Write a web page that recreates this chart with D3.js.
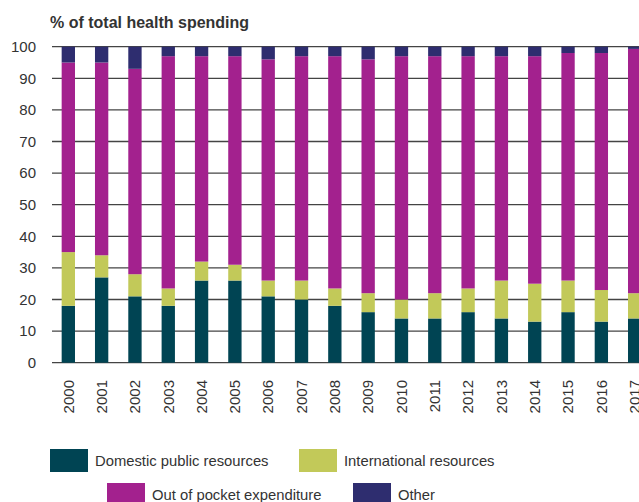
<!DOCTYPE html>
<html>
<head>
<meta charset="utf-8">
<script src="https://cdn.jsdelivr.net/npm/d3@7"></script>
<style>
  body { margin: 0; background: #fff; }
  text { font-family: "Liberation Sans", Arial, sans-serif; fill: #333; }
</style>
</head>
<body>
<script>
var years = ['2000','2001','2002','2003','2004','2005','2006','2007','2008',
             '2009','2010','2011','2012','2013','2014','2015','2016','2017'];

// shares of total health spending, %
var domestic      = [18, 27, 21, 18, 26, 26, 21, 20, 18, 16, 14, 14, 16, 14, 13, 16, 13, 14];
var international = [17,  7,  7, 5.5, 6,  5,  5,  6, 5.5, 6,  6,  8, 7.5, 12, 12, 10, 10,  8];
var outOfPocket   = [60, 61, 65, 73.5, 65, 66, 70, 71, 73.5, 74, 77, 75, 73.5, 71, 72, 72, 75, 77.3];
var other         = [ 5,  5,  7,  3,  3,  3,  4,  3,  3,  4,  3,  3,  3,  3,  3,  2,  2, 0.7];

var seriesNames  = ['Domestic public resources', 'International resources',
                    'Out of pocket expenditure', 'Other'];
var seriesColors = ['#004453', '#c2c959', '#a3218e', '#2e2d6f'];
var yTicks = [0, 10, 20, 30, 40, 50, 60, 70, 80, 90, 100];

var w = 639, h = 502;

var svg = d3.select('body')
  .append('svg')
  .attr('width', w)
  .attr('height', h);

var rows = years.map(function(y, i) {
    return { year: y, s0: domestic[i], s1: international[i], s2: outOfPocket[i], s3: other[i] };
});

var stack = d3.stack().keys(['s0', 's1', 's2', 's3']);
var layers = stack(rows);

var x = d3.scaleBand()
  .domain(years)
  .range([52, 651])
  .paddingInner(0.6)
  .paddingOuter(0.29);

var y = d3.scaleLinear()
  .domain([0, 100])
  .range([362.7, 46.7]);

// gridlines
svg.append('g')
  .selectAll('line')
  .data(yTicks)
  .join('line')
    .attr('x1', 52)
    .attr('x2', 651)
    .attr('y1', function(d) { return y(d); })
    .attr('y2', function(d) { return y(d); })
    .attr('stroke', '#444')
    .attr('stroke-width', 1.3);

// y labels
svg.append('g')
  .selectAll('text')
  .data(yTicks)
  .join('text')
    .attr('x', 36)
    .attr('y', function(d) { return y(d); })
    .attr('dy', '0.35em')
    .attr('text-anchor', 'end')
    .style('font-size', '15px')
    .text(function(d) { return d; });

svg.append('text')
  .attr('x', 50)
  .attr('y', 28)
  .style('font-size', '16px')
  .style('font-weight', 'bold')
  .text('% of total health spending');

// bars
svg.append('g')
  .selectAll('g')
  .data(layers)
  .join('g')
    .attr('fill', function(d, i) { return seriesColors[i]; })
  .selectAll('rect')
  .data(function(d) { return d; })
  .join('rect')
    .attr('x', function(d) { return x(d.data.year); })
    .attr('width', x.bandwidth())
    .attr('y', function(d) { return y(d[1]); })
    .attr('height', function(d) { return y(d[0]) - y(d[1]); });

// x labels (last one runs off the right edge, as in the original)
svg.append('g')
  .selectAll('text')
  .data(years)
  .join('text')
    .attr('transform', function(d) {
        return 'translate(' + (x(d) + x.bandwidth() / 2) + ',380) rotate(-90)';
    })
    .attr('dy', '0.35em')
    .attr('text-anchor', 'end')
    .style('font-size', '15px')
    .text(function(d) { return d; });

// legend
var legendPos = [[50, 449], [299, 449], [107, 483], [353, 483]];
var legend = svg.append('g')
  .selectAll('g')
  .data(seriesNames)
  .join('g')
    .attr('transform', function(d, i) {
        return 'translate(' + legendPos[i][0] + ',' + legendPos[i][1] + ')';
    });

legend.append('rect')
  .attr('width', 38)
  .attr('height', 23)
  .attr('fill', function(d, i) { return seriesColors[i]; });

legend.append('text')
  .attr('x', 45)
  .attr('y', 11.5)
  .attr('dy', '0.35em')
  .style('font-size', '14.8px')
  .text(function(d) { return d; });
</script>
</body>
</html>
